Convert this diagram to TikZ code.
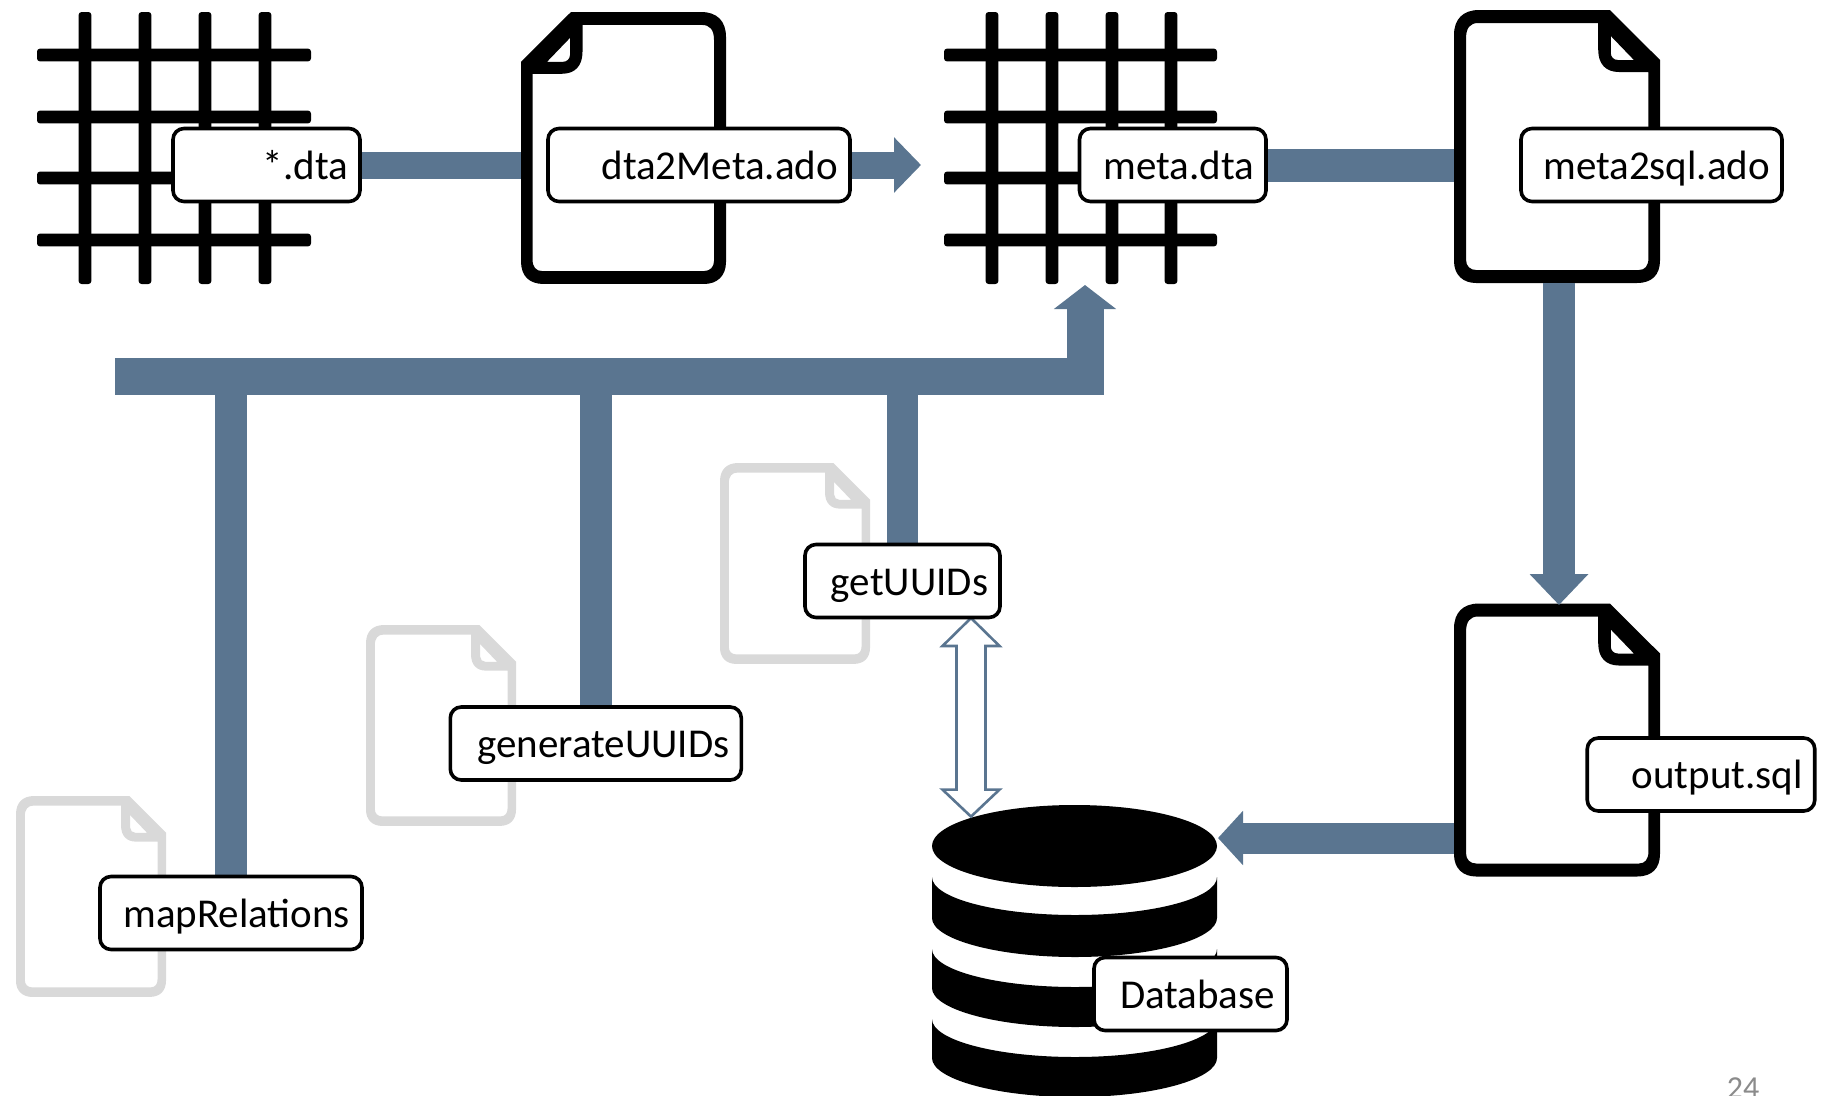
\documentclass[tikz,border=0pt]{standalone}
\usepackage{fontspec}
\setmainfont{Carlito}
\usetikzlibrary{arrows.meta,backgrounds,calc}
\definecolor{flowc}{HTML}{5A7590}
\definecolor{ghost}{HTML}{D9D9D9}
\definecolor{pagenum}{HTML}{8B8B8B}
\tikzset{
  lbl/.style={draw=black,line width=3.6pt,fill=white,rounded corners=11pt,align=right,
    inner xsep=12pt,inner ysep=0pt,minimum height=73pt,text height=29.5pt,text depth=1.5pt,
    font=\fontsize{41}{48}\selectfont},
  iconbox/.style={inner sep=0pt,outer sep=0pt,anchor=north west},
  flow/.style={draw=flowc,fill=none},
  flowtip/.style n args={2}{-{Triangle[length=#1,width=#2,fill=flowc,color=flowc]}},
  hollow/.style={draw=flowc,fill=white,line width=2.6pt,line join=miter}
}
\newcommand\docicon[4]{%
  \begin{scope}[shift={(#1)},xscale=#2,yscale=#3]
    \fill[#4,even odd rule]
      (0,25) .. controls (0,9) and (9,0) .. (25,0) -- (155,0) -- (205,50) -- (205,250)
      .. controls (205,265) and (197,273) .. (182,273) -- (22,273)
      .. controls (9,273) and (0,265) .. (0,251) -- cycle
      (12,28) .. controls (12,18) and (16,13) .. (24,13) -- (143.5,13) -- (143.5,40)
      .. controls (143.5,54) and (151,62) .. (164,62) -- (193.5,62) -- (193.5,248)
      .. controls (193.5,256) and (190,260) .. (184,260) -- (22,260)
      .. controls (16,260) and (12,256) .. (12,250) -- cycle
      (156,26) -- (179,50) -- (163,50) .. controls (159,50) and (156,47) .. (156,43) -- cycle;
  \end{scope}}
\newcommand\gridicon[2]{%
  \foreach \x in {#1}{\fill[black,rounded corners=3pt] ({\x-6.4},12) rectangle ({\x+6.4},284);}
  \foreach \y in {55,117,178,240}{\fill[black,rounded corners=3pt] #2;}}
\newcommand\dbband[2]{%
  \fill[black] (932,#1) .. controls (932,#1+21) and (996,#1+38) .. (1075,#1+38)
    .. controls (1154,#1+38) and (1217,#1+21) .. (1217,#1) -- (1217,#2)
    .. controls (1217,#2+21) and (1154,#2+39) .. (1075,#2+39)
    .. controls (996,#2+39) and (932,#2+21) .. (932,#2) -- cycle;}
\begin{document}
\begin{tikzpicture}[x=1pt,y=-1pt]
\clip (0,0) rectangle (1823,1095);
% icon frames
\node[iconbox,minimum width=274pt,minimum height=272pt] (grid1) at (37,12) {};
\node[iconbox,minimum width=273pt,minimum height=272pt] (grid2) at (944,12) {};
\node[iconbox,minimum width=205pt,minimum height=272pt] (doc1) at (521,12) {};
\node[iconbox,minimum width=206pt,minimum height=273pt] (doc2) at (1454,10) {};
\node[iconbox,minimum width=206pt,minimum height=273pt] (doc3) at (1454,603.5) {};
\node[iconbox,minimum width=150pt,minimum height=201pt] (ghost1) at (16,796) {};
\node[iconbox,minimum width=150pt,minimum height=201pt] (ghost2) at (366,625) {};
\node[iconbox,minimum width=150pt,minimum height=201pt] (ghost3) at (720,463) {};
\node[iconbox,minimum width=285pt,minimum height=292pt] (db) at (932,805) {};
% labels
\node[lbl,text width=163pt] (dta) at (266.5,165) {*.dta};
\node[lbl,text width=278pt] (ado1) at (699,165) {dta2Meta.ado};
\node[lbl,text width=162.5pt] (meta) at (1172.75,165) {meta.dta};
\node[lbl,text width=237pt] (ado2) at (1651.5,165) {meta2sql.ado};
\node[lbl,text width=171pt] (get) at (902.5,581) {getUUIDs};
\node[lbl,text width=267pt] (gen) at (595.8,743.5) {generateUUIDs};
\node[lbl,text width=238pt] (map) at (231,913) {mapRelations};
\node[lbl,text width=203.5pt] (out) at (1701,774.5) {output.sql};
\node[lbl,text width=169pt] (dbl) at (1190.5,994) {Database};
\node[text=pagenum,font=\fontsize{32}{38}\selectfont,anchor=base,inner sep=0pt] (pg) at (1743,1098) {24};
% named free ends
\coordinate (busL) at (115,376.5);
\coordinate (busEnd) at (1085,285);
\coordinate (dbIn) at (1218,838);
\coordinate (uTop) at (971,618);
\coordinate (uBot) at (971,816.6);
\begin{scope}[on background layer]
  \clip (0,0) rectangle (1823,1095);
  \gridicon{85,145,205,265}{(37,{\y-6.4}) rectangle (311,{\y+6.4})}
  \gridicon{992,1052,1112,1171}{(944,{\y-6.4}) rectangle (1217,{\y+6.4})}
  \docicon{doc1.north east}{-1}{0.9963}{black}
  \docicon{doc2.north west}{1.005}{1}{black}
  \docicon{doc3.north west}{1.005}{1}{black}
  \docicon{ghost1.north west}{0.732}{0.736}{ghost}
  \docicon{ghost2.north west}{0.732}{0.736}{ghost}
  \docicon{ghost3.north west}{0.732}{0.736}{ghost}
  \fill[black] (1074.5,846) ellipse [x radius=142.5pt,y radius=41pt];
  \dbband{877}{918}
  \dbband{949}{988}
  \dbband{1019}{1058}
  % connectors
  \draw[flow,line width=27pt] (dta.east) -- (doc1.west |- dta.east);
  \draw[flow,line width=27pt,flowtip={27pt}{54pt},shorten >=23pt] (ado1.east) -- (grid2.west |- ado1.east);
  \draw[flow,line width=33pt] (meta.east) -- (doc2.west |- meta.east);
  \draw[flow,line width=32pt,flowtip={31pt}{57pt}] ([xshift=2pt]doc2.south) -- ([xshift=2pt,yshift=-1.5pt]doc3.north);
  \draw[flow,line width=31pt,flowtip={25pt}{53pt}] (doc3.west |- dbIn) -- (dbIn);
  \draw[flow,line width=37pt,flowtip={24pt}{61pt}] (busL) -- (busEnd |- busL) -- (busEnd);
  \draw[flow,line width=32pt] (map.north) -- (map.north |- busL);
  \draw[flow,line width=32pt] (gen.north) -- (gen.north |- busL);
  \draw[flow,line width=31pt] ([xshift=-0.5pt]get.north) -- ([xshift=-0.5pt]get.north |- busL);
  \draw[hollow] (uTop) -- ++(28.5,28) -- ++(-14,0) -- ($(uBot)+(14.5,-27)$) -- ++(14,0) -- (uBot)
    -- ++(-28.5,-27) -- ++(14,0) -- ($(uTop)+(-14.5,28)$) -- ++(-14,0) -- cycle;
\end{scope}
\end{tikzpicture}
\end{document}
